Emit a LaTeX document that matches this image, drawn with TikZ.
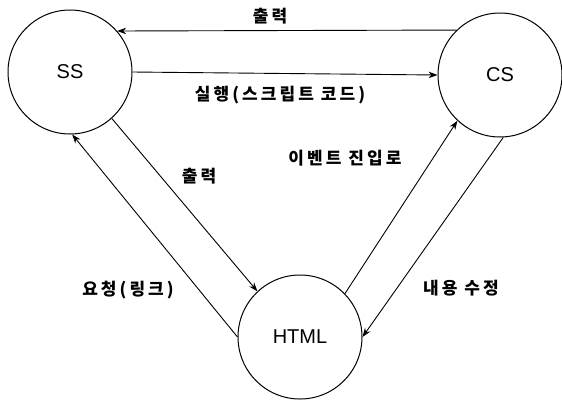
\documentclass[tikz,border=0pt]{standalone}
\usepackage{fontspec}
\setmainfont{Liberation Sans}
\newfontfamily\kor{Noto Sans CJK KR}[LetterSpace=18]
\usetikzlibrary{positioning,arrows.meta}

\begin{document}
\begin{tikzpicture}[x=1pt, y=-1pt, on grid,
        proc/.style={circle, draw, line width=1pt, minimum size=124pt, inner sep=0pt,
            font=\fontsize{20}{24}\selectfont},
        lbl/.style={font=\kor\bfseries\fontsize{17}{20}\selectfont},
        >={Stealth[length=9pt, width=6.5pt]}]
        \useasboundingbox (0,0) rectangle (562,400);
        \node[proc] (ss) at (70,72) {SS};
        \node[proc] (cs) [right=430pt of ss, yshift=-3pt] {CS};
        \node[proc] (html) [below right=265pt and 230pt of ss] {HTML};
        \path[->, line width=0.9pt]
        (cs.134.8) edge (ss.41.4)
        (ss.east) edge (cs.west)
        (ss.-48.7) edge (html.133.7)
        (html.west) edge (ss.-88)
        (html.44.4) edge (cs.227.1)
        (cs.-87) edge (html.east);
        \node[lbl] (outtop) at (270,16) {출력};
        \node[lbl] (run) at (280,95) {실행(스크립트 코드)};
        \node[lbl] (outmid) at (199,176) {출력};
        \node[lbl] (event) at (345,158) {이벤트 진입로};
        \node[lbl] (req) at (128,290) {요청(링크)};
        \node[lbl] (edit) at (461,288) {내용 수정};
    \end{tikzpicture}
\end{document}
